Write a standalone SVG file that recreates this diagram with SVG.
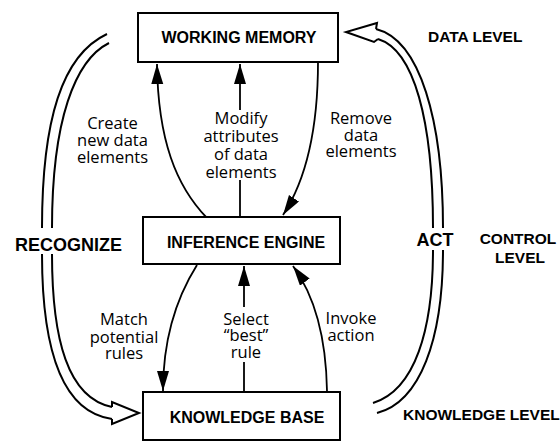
<svg xmlns="http://www.w3.org/2000/svg" width="560" height="442" viewBox="0 0 560 442">
<style>
.box{fill:#fff;stroke:#000;stroke-width:2}
.bt{font-family:"Liberation Sans",Arial,sans-serif;font-weight:bold;font-size:16px;text-anchor:middle;fill:#000}
.big{font-family:"Liberation Sans",Arial,sans-serif;font-weight:bold;font-size:18px;text-anchor:middle;fill:#000}
.lvl{font-family:"Liberation Sans",Arial,sans-serif;font-weight:bold;font-size:15.5px;fill:#000}
.lb{font-family:"Open Sans","DejaVu Sans",sans-serif;font-size:16.5px;text-anchor:middle;fill:#000}
.ln{fill:none;stroke:#000;stroke-width:1.8}
.dl{fill:none;stroke:#000;stroke-width:2}
</style>
<defs>
<marker id="ah" markerUnits="userSpaceOnUse" markerWidth="22" markerHeight="14" refX="20" refY="6" orient="auto">
<path d="M0,0 L20,6 L0,12 z" fill="#000"/>
</marker>
</defs>
<g id="connectors">
<path class="ln" d="M207,218 C176,186 158,140 157,64" marker-end="url(#ah)"/>
<path class="ln" d="M240,110 L240,64" marker-end="url(#ah)"/>
<path class="ln" d="M240,180 L240,218"/>
<path class="ln" d="M318,62 C318,130 306,180 283,215" marker-end="url(#ah)"/>
<path class="ln" d="M197,265 C175,300 163,340 163,391" marker-end="url(#ah)"/>
<path class="ln" d="M244,307 L244,266" marker-end="url(#ah)"/>
<path class="ln" d="M244,362 L244,392"/>
<path class="ln" d="M327,391 C326,330 312,292 293,266" marker-end="url(#ah)"/>
<!-- RECOGNIZE hollow arrow -->
<path class="dl" d="M107,34 C62,55 42,120 42,228"/>
<path class="dl" d="M109,43 C75,60 52,120 52,228"/>
<path class="dl" d="M42,254 C42,350 62,412 112,419"/>
<path class="dl" d="M52,254 C52,340 68,398 112,407"/>
<path class="dl" stroke-linejoin="miter" d="M112,407 L112,402 L139,413 L112,424 L112,419"/>
<!-- ACT hollow arrow -->
<path class="dl" d="M376,29 C420,40 443,120 443,228"/>
<path class="dl" d="M378,39 C414,50 433,120 433,228"/>
<path class="dl" d="M443,250 C443,340 420,402 377,413"/>
<path class="dl" d="M433,250 C433,330 415,390 373,403"/>
<path class="dl" stroke-linejoin="miter" d="M376,29 L377,23 L346,32 L374,42 L378,39"/>
</g>
<g id="working-memory">
<rect class="box" x="138" y="13" width="200" height="49"/>
<text class="bt" x="239" y="43">WORKING MEMORY</text>
</g>
<g id="inference-engine">
<rect class="box" x="143" y="217" width="197" height="47"/>
<text class="bt" x="246" y="248">INFERENCE ENGINE</text>
</g>
<g id="knowledge-base">
<rect class="box" x="143" y="392" width="197" height="48"/>
<text class="bt" x="247" y="423">KNOWLEDGE BASE</text>
</g>
<g id="labels">
<text class="lb" x="112.5" y="129">Create</text>
<text class="lb" x="112.5" y="146">new data</text>
<text class="lb" x="112.5" y="163">elements</text>
<text class="lb" x="241" y="123.5">Modify</text>
<text class="lb" x="241" y="141.5">attributes</text>
<text class="lb" x="241" y="159.5">of data</text>
<text class="lb" x="241" y="177.5">elements</text>
<text class="lb" x="361" y="124">Remove</text>
<text class="lb" x="361" y="140.5">data</text>
<text class="lb" x="361" y="157">elements</text>
<text class="lb" x="124" y="325">Match</text>
<text class="lb" x="124" y="342.5">potential</text>
<text class="lb" x="124" y="359">rules</text>
<text class="lb" x="246" y="325">Select</text>
<text class="lb" x="246" y="340.5">“best”</text>
<text class="lb" x="246" y="357.5">rule</text>
<text class="lb" x="351" y="324">Invoke</text>
<text class="lb" x="351" y="340.5">action</text>
<text class="big" x="68.5" y="251">RECOGNIZE</text>
<text class="big" x="435" y="246">ACT</text>
<text class="lvl" x="428" y="42">DATA LEVEL</text>
<text class="lvl" x="518" y="244" text-anchor="middle">CONTROL</text>
<text class="lvl" x="520" y="263" text-anchor="middle">LEVEL</text>
<text class="lvl" x="403" y="420">KNOWLEDGE LEVEL</text>
</g>
</svg>
